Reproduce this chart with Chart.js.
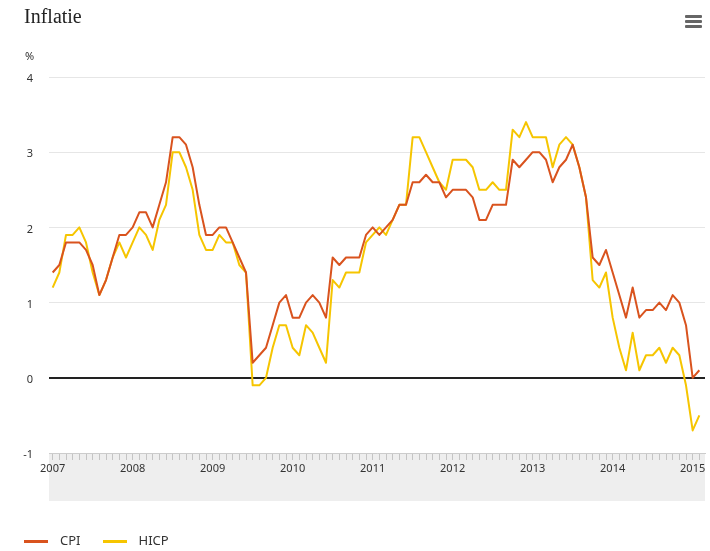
<!DOCTYPE html>
<html>
<head>
<meta charset="utf-8">
<script src="https://cdn.jsdelivr.net/npm/chart.js@4"></script>
<style>
  body { margin: 0; background: #fff; }
  #wrap { position: relative; width: 710px; height: 551px; overflow: hidden; font-family: "Noto Sans", sans-serif; }
  #c { position: absolute; left: 0; top: 0; }
  #title { position: absolute; left: 24px; top: 5px; font-family: "Liberation Serif", serif; font-size: 20px; color: #222; }
  #menu { position: absolute; left: 685px; top: 15px; width: 17px; }
  #menu span { display: block; height: 3px; background: #666; margin-bottom: 2px; border-radius: 1px; }
  #unit { position: absolute; left: 25px; top: 48px; font-size: 11px; color: #333; }
  #legend { position: absolute; left: 24px; top: 531px; font-size: 13px; color: #333; white-space: nowrap; }
  #legend .item { display: inline-block; margin-right: 22px; }
  #legend .swatch { display: inline-block; width: 24px; height: 3px; vertical-align: middle; margin-right: 12px; }
</style>
</head>
<body>
<div id="wrap">
  <canvas id="c" width="710" height="551"></canvas>
  <div id="title">Inflatie</div>
  <div id="menu"><span></span><span></span><span></span></div>
  <div id="unit">%</div>
  <div id="legend"></div>
</div>
<script>
// monthly values, Jan 2007 - Feb 2015
const yearLabels = ['2007', '2008', '2009', '2010', '2011', '2012', '2013', '2014', '2015'];
const yTicks = [-1, 0, 1, 2, 3, 4];

const cpi = [
    1.4, 1.5, 1.8, 1.8, 1.8, 1.7, 1.5, 1.1, 1.3, 1.6, 1.9, 1.9,
    2.0, 2.2, 2.2, 2.0, 2.3, 2.6, 3.2, 3.2, 3.1, 2.8, 2.3, 1.9,
    1.9, 2.0, 2.0, 1.8, 1.6, 1.4, 0.2, 0.3, 0.4, 0.7, 1.0, 1.1,
    0.8, 0.8, 1.0, 1.1, 1.0, 0.8, 1.6, 1.5, 1.6, 1.6, 1.6, 1.9,
    2.0, 1.9, 2.0, 2.1, 2.3, 2.3, 2.6, 2.6, 2.7, 2.6, 2.6, 2.4,
    2.5, 2.5, 2.5, 2.4, 2.1, 2.1, 2.3, 2.3, 2.3, 2.9, 2.8, 2.9,
    3.0, 3.0, 2.9, 2.6, 2.8, 2.9, 3.1, 2.8, 2.4, 1.6, 1.5, 1.7,
    1.4, 1.1, 0.8, 1.2, 0.8, 0.9, 0.9, 1.0, 0.9, 1.1, 1.0, 0.7,
    0.0, 0.1
];

const hicp = [
    1.2, 1.4, 1.9, 1.9, 2.0, 1.8, 1.4, 1.1, 1.3, 1.6, 1.8, 1.6,
    1.8, 2.0, 1.9, 1.7, 2.1, 2.3, 3.0, 3.0, 2.8, 2.5, 1.9, 1.7,
    1.7, 1.9, 1.8, 1.8, 1.5, 1.4, -0.1, -0.1, 0.0, 0.4, 0.7, 0.7,
    0.4, 0.3, 0.7, 0.6, 0.4, 0.2, 1.3, 1.2, 1.4, 1.4, 1.4, 1.8,
    1.9, 2.0, 1.9, 2.1, 2.3, 2.3, 3.2, 3.2, 3.0, 2.8, 2.6, 2.5,
    2.9, 2.9, 2.9, 2.8, 2.5, 2.5, 2.6, 2.5, 2.5, 3.3, 3.2, 3.4,
    3.2, 3.2, 3.2, 2.8, 3.1, 3.2, 3.1, 2.8, 2.4, 1.3, 1.2, 1.4,
    0.8, 0.4, 0.1, 0.6, 0.1, 0.3, 0.3, 0.4, 0.2, 0.4, 0.3, -0.1,
    -0.7, -0.5
];

const toPoints = arr => arr.map((v, i) => ({ x: i, y: v }));

Chart.defaults.font.family = '"Noto Sans", sans-serif';
Chart.defaults.font.size = 11;
Chart.defaults.color = '#333';

// grey navigator strip under the plot
const bandPlugin = {
    id: 'band',
    beforeDraw(chart) {
        const { ctx, chartArea } = chart;
        ctx.save();
        ctx.fillStyle = '#eeeeee';
        ctx.fillRect(chartArea.left, chartArea.bottom, chartArea.right - chartArea.left, 48);
        ctx.restore();
    }
};

const chart = new Chart(document.getElementById('c'), {
    type: 'line',
    data: {
        datasets: [{
            label: 'CPI',
            data: toPoints(cpi),
            borderColor: '#d9531e',
            borderWidth: 2,
            pointRadius: 0,
            tension: 0,
            borderJoinStyle: 'round'
        }, {
            label: 'HICP',
            data: toPoints(hicp),
            borderColor: '#f6c500',
            borderWidth: 2,
            pointRadius: 0,
            tension: 0,
            borderJoinStyle: 'round'
        }]
    },
    options: {
        responsive: false,
        animation: false,
        layout: { padding: { top: 77, right: 5, left: 0, bottom: 0 } },
        plugins: {
            legend: { display: false },
            tooltip: { enabled: false }
        },
        scales: {
            x: {
                type: 'linear',
                min: -0.55,
                max: 97.85,
                afterBuildTicks: scale => { scale.ticks = cpi.map((v, i) => ({ value: i })); },
                afterFit: scale => { scale.height = 98; },
                ticks: {
                    autoSkip: false,
                    maxRotation: 0,
                    padding: 2,
                    callback: v => (v % 12 === 0 ? yearLabels[v / 12] : '')
                },
                grid: { drawOnChartArea: false, drawTicks: true, tickLength: 7, color: '#c4c4c4' },
                border: { color: '#cccccc' }
            },
            y: {
                min: -1,
                max: 4,
                afterBuildTicks: scale => { scale.ticks = yTicks.map(v => ({ value: v })); },
                afterFit: scale => { scale.width = 49; },
                ticks: { padding: 16, labelOffset: 2 },
                grid: {
                    drawTicks: false,
                    color: c => (c.tick.value === 0 ? '#222' : '#e6e6e6'),
                    lineWidth: c => (c.tick.value === 0 ? 2 : 1)
                },
                border: { display: false }
            }
        }
    },
    plugins: [bandPlugin]
});

// legend
const legend = document.getElementById('legend');
chart.data.datasets.forEach(ds => {
    const item = document.createElement('span');
    item.className = 'item';
    item.innerHTML = '<span class="swatch" style="background:' + ds.borderColor + '"></span>' + ds.label;
    legend.appendChild(item);
});
</script>
</body>
</html>
